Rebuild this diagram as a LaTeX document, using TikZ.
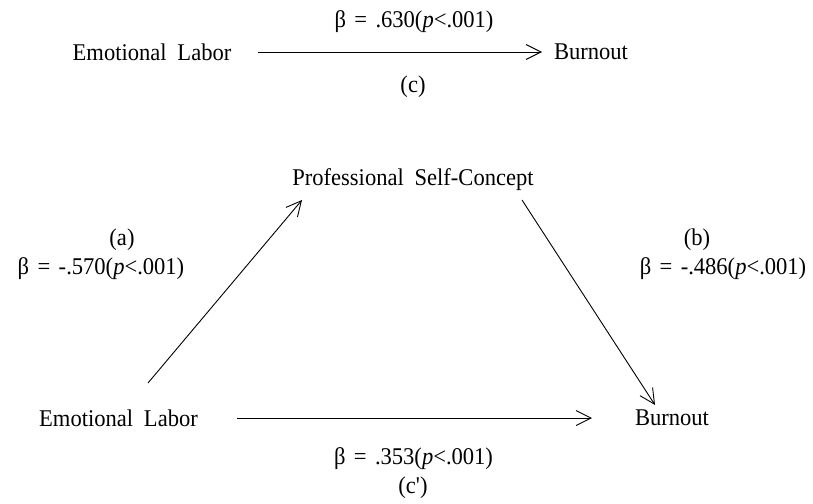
\documentclass[tikz,border=0pt]{standalone}
\usepackage{fontspec}
\setmainfont{Liberation Serif}[Ligatures=TeXOff,FakeStretch=0.94]
\usetikzlibrary{arrows.meta,calc}
\begin{document}
\begin{tikzpicture}[x=1pt,y=-1pt,
  lbl/.style={font=\fontsize{24}{28}\selectfont, inner sep=0pt},
  conn/.style={line width=0.9pt, -{Straight Barb[length=15pt,width=15pt,line width=0.9pt]}}]
\useasboundingbox (0,0) rectangle (813,503);
% top model
\node[lbl] (elt) at (152,52) {Emotional\hspace{0.45em}Labor};
\node[lbl] (bot) at (591,52) {Burnout};
\node[lbl] (bt) at (414,22) {β\hspace{0.35em}=\hspace{0.35em}.630(\textit{p}<.001)};
\node[lbl] (ct) at (413,87) {(c)};
\draw[conn] ($(elt)+(106,0)$) -- ($(bot)+(-49,0)$);
% bottom model
\node[lbl] (psc) at (413,180) {Professional\hspace{0.45em}Self-Concept};
\node[lbl] (elb) at (118.5,418) {Emotional\hspace{0.45em}Labor};
\node[lbl] (bob) at (672,418) {Burnout};
\node[lbl] (la) at (122,240) {(a)};
\node[lbl] (ba) at (101,269) {β\hspace{0.35em}=\hspace{0.35em}-.570(\textit{p}<.001)};
\node[lbl] (lb) at (697,240) {(b)};
\node[lbl] (bb) at (723,269) {β\hspace{0.35em}=\hspace{0.35em}-.486(\textit{p}<.001)};
\node[lbl] (bc) at (413.5,459) {β\hspace{0.35em}=\hspace{0.35em}.353(\textit{p}<.001)};
\node[lbl] (lc) at (413,488) {(c')};
\draw[conn] ($(elb)+(29.5,-35)$) -- ($(psc)+(-111,20)$);
\draw[conn] ($(psc)+(109,20)$) -- ($(bob)+(-17,-13)$);
\draw[conn] ($(elb)+(118.5,0)$) -- ($(bob)+(-80,0)$);
\end{tikzpicture}
\end{document}
